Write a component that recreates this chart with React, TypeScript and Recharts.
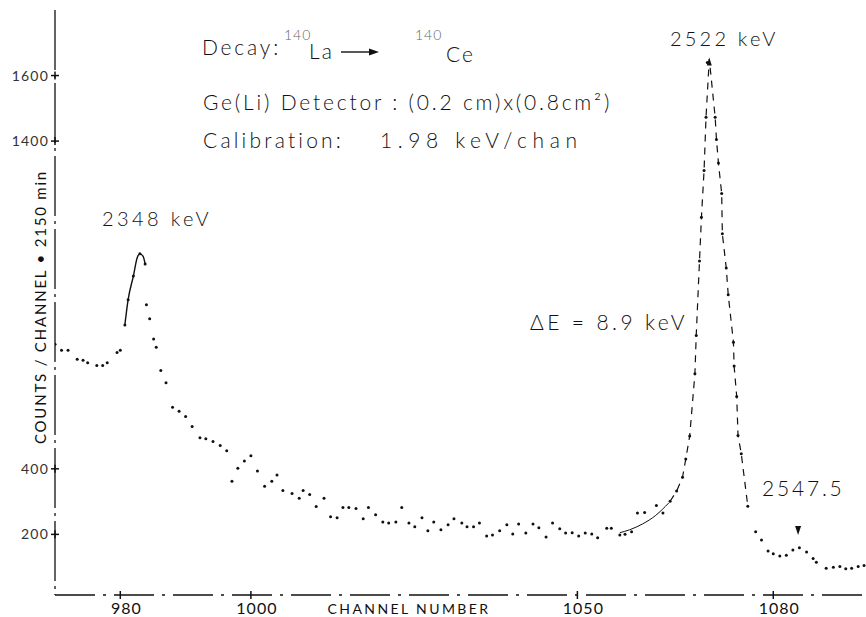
import React from 'react';
import { ComposedChart, Scatter, Line, XAxis, YAxis } from 'recharts';

// Spectrum: channel number and counts / channel
const channels = [
  970.0, 971.0, 972.0, 973.4, 974.3, 975.0, 976.4, 977.3, 978.0, 979.5,
  980.0, 980.7, 981.2, 982.0, 983.0, 983.8, 984.0, 984.5, 985.1, 985.5,
  986.2, 987.0, 988.0, 989.0, 990.0, 991.0, 992.2, 993.1, 994.2, 995.3,
  996.3, 997.1, 998.0, 999.0, 1000.0, 1001.0, 1002.1, 1003.2, 1004.0, 1004.9,
  1006.3, 1007.4, 1008.0, 1009.0, 1010.0, 1011.2, 1012.2, 1013.2, 1014.1, 1015.0,
  1016.1, 1017.2, 1018.0, 1019.1, 1020.2, 1021.1, 1022.2, 1023.1, 1024.2, 1025.1,
  1026.2, 1027.1, 1028.0, 1029.1, 1030.2, 1031.1, 1032.3, 1033.1, 1034.1, 1035.0,
  1036.1, 1037.0, 1038.1, 1039.2, 1040.1, 1041.0, 1042.1, 1043.2, 1044.1, 1045.2,
  1046.2, 1047.3, 1048.2, 1049.2, 1050.2, 1051.2, 1052.2, 1053.1, 1054.5, 1055.2,
  1056.5, 1057.3, 1058.3, 1059.2, 1060.3, 1062.1, 1063.1, 1064.2, 1065.2, 1066.1,
  1066.6, 1067.2, 1068.0, 1068.2, 1068.7, 1069.0, 1069.4, 1069.7, 1069.9, 1071.1,
  1071.3, 1071.6, 1072.1, 1072.2, 1072.8, 1073.1, 1073.9, 1074.0, 1074.4, 1074.6,
  1075.1, 1076.1, 1077.3, 1078.2, 1079.2, 1080.0, 1081.0, 1082.0, 1083.0, 1084.0,
  1085.1, 1086.1, 1086.6, 1088.1, 1089.2, 1090.2, 1091.1, 1092.0, 1093.0, 1093.9,
];
const counts = [
  780, 762, 762, 734, 731, 724, 715, 715, 724, 755,
  762, 839, 916, 988, 1056, 1025, 901, 858, 796, 771,
  700, 663, 588, 576, 560, 529, 495, 492, 483, 471,
  455, 362, 402, 424, 440, 393, 347, 362, 381, 334,
  325, 310, 334, 322, 285, 310, 254, 251, 282, 282,
  279, 248, 282, 260, 238, 235, 238, 282, 235, 223,
  251, 211, 238, 214, 229, 248, 235, 223, 223, 235,
  195, 198, 211, 229, 201, 232, 204, 232, 220, 192,
  235, 217, 204, 205, 195, 204, 201, 190, 219, 219,
  198, 200, 208, 265, 267, 288, 265, 301, 332, 374,
  430, 500, 690, 807, 1034, 1168, 1310, 1473, 1640, 1473,
  1405, 1333, 1240, 1117, 1013, 931, 786, 714, 621, 502,
  446, 286, 208, 183, 149, 141, 134, 136, 152, 159,
  146, 126, 115, 97, 100, 102, 95, 97, 102, 105,
];

// Dashed pen trace through the 2522 keV peak
const peakChannels = [1064.2, 1065.2, 1066.1, 1066.6, 1067.2, 1068.0, 1068.2, 1068.7, 1069.0, 1069.4, 1069.7, 1070.2, 1071.1, 1071.3, 1071.6, 1072.1, 1072.2, 1072.8, 1073.1, 1073.9, 1074.0, 1074.4, 1074.6, 1075.1, 1076.1];
const peakCounts = [301, 332, 374, 430, 500, 690, 807, 1034, 1168, 1310, 1473, 1650, 1473, 1405, 1333, 1240, 1117, 1013, 931, 786, 714, 621, 502, 446, 286];

// Solid pen trace over the 2348 keV peak top
const leftFitChannels = [980.7, 981.2, 982.0, 982.6, 983.0, 983.5, 983.8];
const leftFitCounts = [839, 916, 988, 1045, 1056, 1048, 1025];

// Solid pen trace at the foot of the 2522 keV peak
const footFitChannels = [1056.5, 1058.0, 1060.0, 1062.0, 1064.0];
const footFitCounts = [205, 214, 232, 258, 296];

// Arrow markers (peak 2522 keV, line 2547.5)
const arrowUp = [{ ch: 1070.2, c: 1655 }];
const arrowDown = [{ ch: 1083.8, c: 198 }];

const xTicks = [980, 1000, 1050, 1080];
const yTicks = [200, 400, 1400, 1600];

const spectrum = channels.map((ch, i) => ({ ch, c: counts[i] }));
const peakLine = peakChannels.map((ch, i) => ({ ch, c: peakCounts[i] }));
const leftFit = leftFitChannels.map((ch, i) => ({ ch, c: leftFitCounts[i] }));
const footFit = footFitChannels.map((ch, i) => ({ ch, c: footFitCounts[i] }));

const FONT = 'Lato, "DejaVu Sans", sans-serif';
const INK = '#111';

const Dot = (props: any) => <circle cx={props.cx} cy={props.cy} r={1.5} fill={INK} />;

const UpArrow = (props: any) => {
  const { cx, cy } = props;
  return <path d={`M${cx},${cy} L${cx - 2.5},${cy + 8} L${cx + 2.5},${cy + 8} Z`} fill={INK} />;
};
const DownArrow = (props: any) => {
  const { cx, cy } = props;
  return <path d={`M${cx},${cy} L${cx - 3},${cy - 9} L${cx + 3},${cy - 9} Z`} fill={INK} />;
};

const YTick = (props: any) => {
  const { x, y, payload } = props;
  return (
    <g>
      <line x1={x - 4} x2={x + 4} y1={y} y2={y} stroke={INK} strokeWidth={1.5} />
      <line x1={x} x2={x} y1={y - 4} y2={y + 4} stroke={INK} strokeWidth={1.5} />
      <text x={x - 6} y={y + 5} textAnchor="end" fontSize={14} letterSpacing={1.2} fontFamily={FONT} fill="#333">
        {payload.value}
      </text>
    </g>
  );
};

const XTick = (props: any) => {
  const { x, y, payload } = props;
  return (
    <g>
      <line x1={x} x2={x} y1={y - 4} y2={y + 4} stroke={INK} strokeWidth={1.5} />
      <text x={x + 6} y={y + 19} textAnchor="middle" fontSize={16} letterSpacing={1} fontFamily={FONT} fill={INK}>
        {payload.value}
      </text>
    </g>
  );
};

export default function App() {
  return (
    <div style={{ position: 'absolute', left: 0, top: 0, width: 866, height: 617, background: '#fff' }}>
      <ComposedChart width={866} height={617} margin={{ top: 10, right: 0, bottom: 0, left: 0 }}>
        <XAxis
          xAxisId="b"
          type="number"
          dataKey="ch"
          domain={[970, 1094.2]}
          ticks={xTicks}
          height={22}
          tickSize={0}
          tickMargin={0}
          tickLine={false}
          tick={<XTick />}
          axisLine={{ stroke: INK, strokeWidth: 1.3, strokeDasharray: '40 8 3 8' }}
          allowDataOverflow
        />
        <XAxis
          xAxisId="t"
          orientation="top"
          type="number"
          dataKey="ch"
          domain={[970, 1094.2]}
          height={0}
          tick={false}
          tickLine={false}
          axisLine={{ stroke: INK, strokeWidth: 1.3, strokeDasharray: '30 14 4 14' }}
        />
        <YAxis
          type="number"
          domain={[15, 1800]}
          ticks={yTicks}
          width={55}
          tickSize={0}
          tickMargin={0}
          tickLine={false}
          tick={<YTick />}
          axisLine={{ stroke: INK, strokeWidth: 1.3, strokeDasharray: '60 5 3 5' }}
          allowDataOverflow
        />
        <Line
          xAxisId="b"
          data={peakLine}
          dataKey="c"
          type="linear"
          dot={false}
          stroke={INK}
          strokeWidth={1.2}
          strokeDasharray="7 6"
          isAnimationActive={false}
        />
        <Line
          xAxisId="b"
          data={leftFit}
          dataKey="c"
          type="monotone"
          dot={false}
          stroke={INK}
          strokeWidth={1.4}
          isAnimationActive={false}
        />
        <Line
          xAxisId="b"
          data={footFit}
          dataKey="c"
          type="monotone"
          dot={false}
          stroke={INK}
          strokeWidth={1}
          isAnimationActive={false}
        />
        <Scatter xAxisId="b" data={spectrum} dataKey="c" shape={<Dot />} isAnimationActive={false} />
        <Scatter xAxisId="b" data={arrowUp} dataKey="c" shape={<UpArrow />} isAnimationActive={false} />
        <Scatter xAxisId="b" data={arrowDown} dataKey="c" shape={<DownArrow />} isAnimationActive={false} />
      </ComposedChart>
      <svg
        width={866}
        height={617}
        style={{ position: 'absolute', left: 0, top: 0, pointerEvents: 'none' }}
        fontFamily={FONT}
        fill={INK}
      >
        <g fontWeight={300}>
          <text x={202} y={55} fontSize={21} letterSpacing={2.8}>Decay:</text>
          <text x={284} y={40} fontSize={14} letterSpacing={1} fill="#666">140</text>
          <text x={309} y={59} fontSize={21} letterSpacing={2}>La</text>
          <line x1={341} x2={373} y1={52} y2={52} stroke={INK} strokeWidth={1.4} />
          <path d="M379,52 L369,48.5 L369,55.5 Z" fill={INK} />
          <text x={415} y={40} fontSize={14} letterSpacing={1} fill="#666">140</text>
          <text x={446} y={62} fontSize={21} letterSpacing={2}>Ce</text>

          <text x={203} y={110} fontSize={21} letterSpacing={2.8}>Ge(Li)  Detector : (0.2 cm)x(0.8cm²)</text>
          <text x={203} y={148} fontSize={21} letterSpacing={3.2}>Calibration:</text>
          <text x={380} y={148} fontSize={21} letterSpacing={5.6}>1.98 keV/chan</text>

          <text x={102} y={226} fontSize={20} letterSpacing={3.4}>2348 keV</text>
          <text x={670} y={46} fontSize={20} letterSpacing={3.2}>2522 keV</text>
          <text x={530} y={330} fontSize={21} letterSpacing={3.4}>ΔE = 8.9 keV</text>
          <text x={762} y={496} fontSize={21} letterSpacing={2.8}>2547.5</text>

          <text x={409} y={614} fontSize={14} letterSpacing={2.4} textAnchor="middle" fontWeight={400}>
            CHANNEL NUMBER
          </text>
          <text
            x={46}
            y={307}
            fontSize={15}
            letterSpacing={1.8}
            textAnchor="middle"
            fontWeight={400}
            transform="rotate(-90 46 307)"
          >
            COUNTS / CHANNEL • 2150 min
          </text>
        </g>
      </svg>
    </div>
  );
}
